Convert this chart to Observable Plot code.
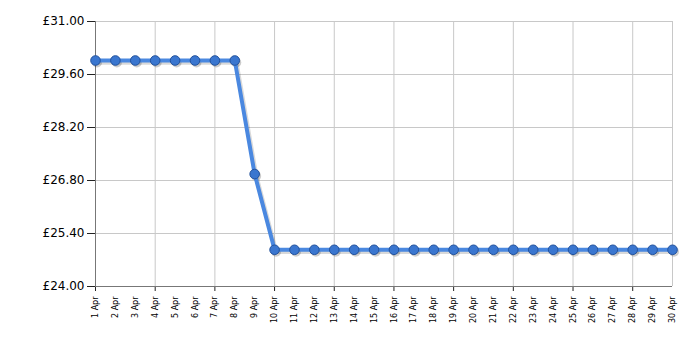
<!DOCTYPE html>
<html>
<head>
<meta charset="utf-8">
<script src="https://cdn.jsdelivr.net/npm/d3@7"></script>
<script src="https://cdn.jsdelivr.net/npm/@observablehq/plot@0.6"></script>
<style>
  html, body { margin: 0; padding: 0; background: #fff; }
  #chart { width: 700px; height: 350px; }
</style>
</head>
<body>
<div id="chart"></div>
<script>
const days = ["1 Apr","2 Apr","3 Apr","4 Apr","5 Apr","6 Apr","7 Apr","8 Apr","9 Apr","10 Apr",
  "11 Apr","12 Apr","13 Apr","14 Apr","15 Apr","16 Apr","17 Apr","18 Apr","19 Apr","20 Apr",
  "21 Apr","22 Apr","23 Apr","24 Apr","25 Apr","26 Apr","27 Apr","28 Apr","29 Apr","30 Apr"];
const prices = [29.97,29.97,29.97,29.97,29.97,29.97,29.97,29.97,26.97,24.97,
  24.97,24.97,24.97,24.97,24.97,24.97,24.97,24.97,24.97,24.97,
  24.97,24.97,24.97,24.97,24.97,24.97,24.97,24.97,24.97,24.97];
const yTicks = [24.00, 25.40, 26.80, 28.20, 29.60, 31.00];
const gridDays = ["1 Apr","4 Apr","7 Apr","10 Apr","13 Apr","16 Apr","19 Apr","22 Apr","25 Apr","28 Apr"];

const data = days.map((d, i) => ({day: d, price: prices[i]}));

const chart = Plot.plot({
  width: 700,
  height: 350,
  marginLeft: 95,
  marginRight: 28,
  marginTop: 21,
  marginBottom: 64,
  style: {fontFamily: "'DejaVu Sans', Verdana, sans-serif", background: "#fff", color: "#000"},
  x: {type: "point", domain: days, padding: 0, round: false},
  y: {domain: [24, 31]},
  marks: [
    Plot.gridY(yTicks, {stroke: "#c8c8c8", strokeOpacity: 1}),
    Plot.gridX(gridDays, {stroke: "#c8c8c8", strokeOpacity: 1}),
    Plot.ruleX([days[days.length - 1]], {stroke: "#c8c8c8"}),
    Plot.ruleY([31], {stroke: "#c8c8c8"}),
    Plot.axisY({ticks: yTicks, tickFormat: d => "£" + d.toFixed(2), tickSize: 8, tickPadding: 3, fontSize: 12, label: null, stroke: "#222"}),
    Plot.axisX({ticks: gridDays, tickFormat: null, tickSize: 5, label: null, stroke: "#222"}),
    Plot.axisX({ticks: days, tickSize: 0, tickPadding: 10, tickRotate: -90, fontSize: 8, label: null}),
    Plot.ruleX([days[0]], {stroke: "#777"}),
    Plot.ruleY([24], {stroke: "#777"}),
    Plot.lineY(data, {x: "day", y: "price", stroke: "#000", strokeOpacity: 0.15, strokeWidth: 4.5, dx: 1.5, dy: 2}),
    Plot.dot(data, {x: "day", y: "price", r: 5, fill: "#000", fillOpacity: 0.2, dx: 1.5, dy: 2}),
    Plot.lineY(data, {x: "day", y: "price", stroke: "#4a88e0", strokeWidth: 4}),
    Plot.dot(data, {x: "day", y: "price", r: 4.8, fill: "#3a76cf", stroke: "#23529c", strokeWidth: 1})
  ]
});
document.getElementById("chart").append(chart);
</script>
</body>
</html>
